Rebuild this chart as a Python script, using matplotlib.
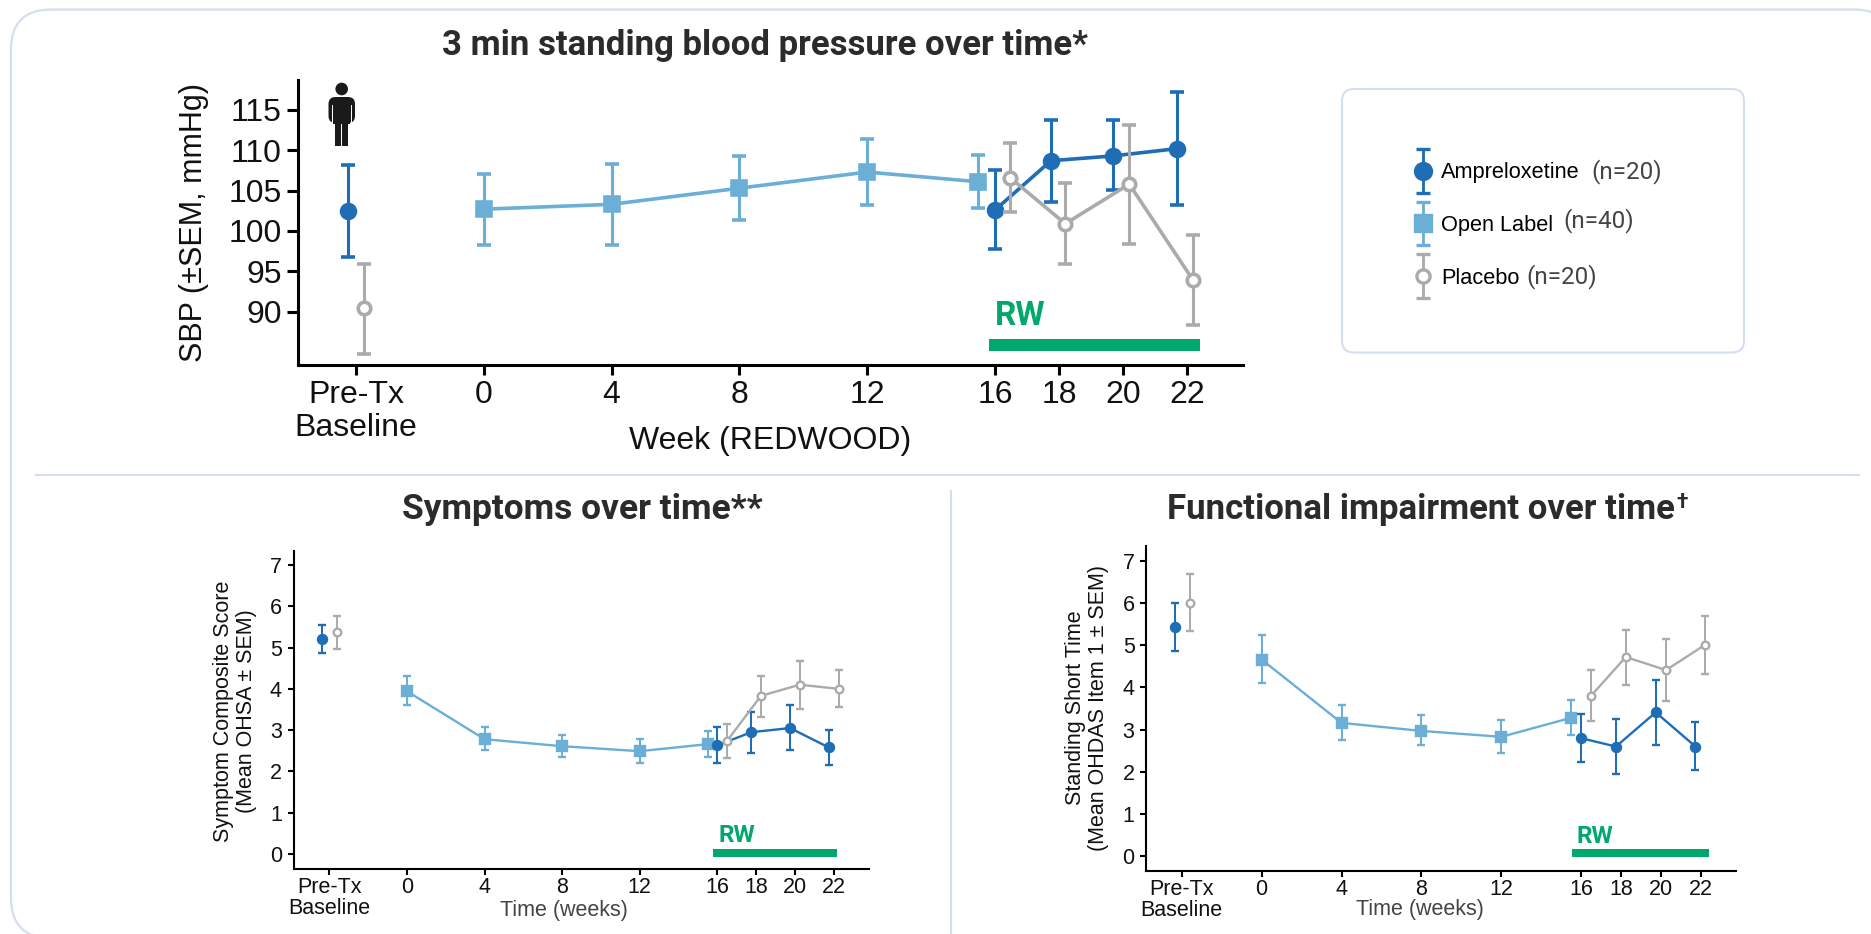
import matplotlib
matplotlib.use("Agg")
import matplotlib.pyplot as plt
from matplotlib.container import ErrorbarContainer
from matplotlib.legend_handler import HandlerErrorbar
from matplotlib.patches import FancyBboxPatch, Circle, Rectangle

W, H = 1871, 934
AMP = "#1F6DB5"
OPEN = "#6BAED6"
PBO = "#ABABAB"
GREEN = "#00A86B"
BORDER = "#D3DFF1"
DARK = "#2B2B2B"

xticks = [-4, 0, 4, 8, 12, 16, 18, 20, 22]
xticklabels = ["Pre-Tx\nBaseline", "0", "4", "8", "12", "16", "18", "20", "22"]

# top panel - standing SBP
sbp_amp_x = [16, 17.75, 19.7, 21.7]
sbp_amp = [102.6, 108.7, 109.3, 110.2]
sbp_amp_hi = [107.6, 113.8, 113.8, 117.2]
sbp_amp_lo = [97.8, 103.6, 105.1, 103.2]
sbp_amp_base = [-4.24, 102.5, 108.2, 96.8]
sbp_open_x = [0, 4, 8, 12, 15.47]
sbp_open = [102.7, 103.3, 105.3, 107.3, 106.1]
sbp_open_hi = [107.1, 108.3, 109.3, 111.4, 109.4]
sbp_open_lo = [98.3, 98.3, 101.4, 103.2, 102.9]
sbp_pbo_x = [16.47, 18.2, 20.2, 22.2]
sbp_pbo = [106.6, 100.9, 105.8, 93.9]
sbp_pbo_hi = [110.95, 105.9, 113.1, 99.5]
sbp_pbo_lo = [102.3, 95.9, 98.4, 88.3]
sbp_pbo_base = [-3.75, 90.4, 95.9, 84.8]

# bottom left - symptoms
sym_amp_x = [16, 17.75, 19.75, 21.75]
sym_amp = [2.63, 2.95, 3.05, 2.58]
sym_amp_hi = [3.07, 3.45, 3.6, 3.0]
sym_amp_lo = [2.2, 2.45, 2.51, 2.16]
sym_amp_base = [-4.41, 5.21, 5.55, 4.86]
sym_open_x = [0, 4, 8, 12, 15.5]
sym_open = [3.94, 2.78, 2.61, 2.49, 2.66]
sym_open_hi = [4.31, 3.07, 2.89, 2.78, 2.97]
sym_open_lo = [3.6, 2.53, 2.36, 2.2, 2.36]
sym_pbo_x = [16.5, 18.25, 20.25, 22.25]
sym_pbo = [2.74, 3.83, 4.1, 4.0]
sym_pbo_hi = [3.16, 4.32, 4.67, 4.45]
sym_pbo_lo = [2.32, 3.32, 3.52, 3.57]
sym_pbo_base = [-3.6, 5.38, 5.76, 4.97]

# bottom right - functional impairment
fun_amp_x = [15.98, 17.74, 19.73, 21.72]
fun_amp = [2.8, 2.6, 3.41, 2.6]
fun_amp_hi = [3.38, 3.26, 4.17, 3.17]
fun_amp_lo = [2.23, 1.94, 2.64, 2.04]
fun_amp_base = [-4.36, 5.43, 5.99, 4.87]
fun_open_x = [0, 4, 8, 12, 15.49]
fun_open = [4.66, 3.16, 2.97, 2.83, 3.28]
fun_open_hi = [5.23, 3.59, 3.34, 3.24, 3.71]
fun_open_lo = [4.1, 2.75, 2.63, 2.45, 2.87]
fun_pbo_x = [16.49, 18.23, 20.25, 22.2]
fun_pbo = [3.8, 4.72, 4.41, 5.01]
fun_pbo_hi = [4.42, 5.36, 5.15, 5.69]
fun_pbo_lo = [3.2, 4.06, 3.68, 4.32]
fun_pbo_base = [-3.58, 6.01, 6.69, 5.34]

legend_names = ["Ampreloxetine", "Open Label", "Placebo"]
legend_ns = ["(n=20)", "(n=40)", "(n=20)"]

plt.rcParams["font.family"] = ["Liberation Sans", "DejaVu Sans"]
fig = plt.figure(figsize=(W / 100, H / 100), dpi=100)


def axes_px(left, top, right, bottom, **kw):
    return fig.add_axes([left / W, 1 - bottom / H, (right - left) / W, (bottom - top) / H], **kw)


def err(ax, x, y, hi, lo, color, marker, ms, lw, cap, face=None, z=3, line=True):
    yerr = [[m - l for m, l in zip(y, lo)], [h - m for m, h in zip(y, hi)]]
    return ax.errorbar(x, y, yerr=yerr, color=color, marker=marker, ms=ms, mfc=face or color, mec=color,
                       mew=lw, lw=lw if line else 0, elinewidth=lw * 0.85, capsize=cap, capthick=lw,
                       zorder=z)


def panel(ax, xlim, ylim, yticks, fs, spine_w, xtick_len, ytick_len, pad, spacing, amp, opn, pbo, rw, ms, lw, cap):
    ax.set_xlim(xlim)
    ax.set_ylim(ylim)
    ax.patch.set_alpha(0)
    for s in ["top", "right"]:
        ax.spines[s].set_visible(False)
    for s in ["left", "bottom"]:
        ax.spines[s].set_linewidth(spine_w)
    ax.set_xticks(xticks)
    ax.set_xticklabels(xticklabels, fontsize=fs, color="#111111", linespacing=spacing)
    ax.set_yticks(yticks)
    ax.tick_params(axis="y", labelsize=fs, width=spine_w, length=ytick_len, pad=4, labelcolor="#111111")
    ax.tick_params(axis="x", width=spine_w, length=xtick_len, pad=pad)
    err(ax, opn[0], opn[1], opn[2], opn[3], OPEN, "s", ms, lw, cap, z=3)
    err(ax, amp[0], amp[1], amp[2], amp[3], AMP, "o", ms - 0.5, lw, cap, z=4)
    err(ax, pbo[0], pbo[1], pbo[2], pbo[3], PBO, "o", ms - 1.5, lw, cap, face="white", z=5)
    b = amp[4]
    err(ax, [b[0]], [b[1]], [b[2]], [b[3]], AMP, "o", ms - 0.5, lw, cap, z=4, line=False)
    b = pbo[4]
    err(ax, [b[0]], [b[1]], [b[2]], [b[3]], PBO, "o", ms - 1.5, lw, cap, face="white", z=5, line=False)
    ax.barh(rw[0], rw[2] - rw[1], left=rw[1], height=rw[3], color=GREEN, zorder=2)


# overlay in pixel coordinates for the card outline and icon
bg = fig.add_axes([0, 0, 1, 1], zorder=0)
bg.set_xlim(0, W)
bg.set_ylim(H, 0)
bg.axis("off")
bg.add_patch(FancyBboxPatch((11, 9.5), 1883, 928.5, boxstyle="round,pad=0,rounding_size=40",
                            fc="white", ec=BORDER, lw=1.6))
bg.plot([36, 1859], [475, 475], color=BORDER, lw=1.5)
bg.plot([951, 951], [491, 934], color=BORDER, lw=1.5)
bg.add_patch(FancyBboxPatch((1342, 89), 402, 263.5, boxstyle="round,pad=0,rounding_size=12",
                            fc="white", ec=BORDER, lw=1.5))

ax1 = axes_px(298.4, 80, 1243, 365, zorder=2)
panel(ax1, (-5.8, 23.76), (83.4, 118.7), [90, 95, 100, 105, 110, 115], 23, 2.2, 7, 8, 4, 1.12,
      (sbp_amp_x, sbp_amp, sbp_amp_hi, sbp_amp_lo, sbp_amp_base),
      (sbp_open_x, sbp_open, sbp_open_hi, sbp_open_lo),
      (sbp_pbo_x, sbp_pbo, sbp_pbo_hi, sbp_pbo_lo, sbp_pbo_base),
      (85.9, 15.8, 22.42, 1.49), 10.5, 2.6, 4.7)

ax2 = axes_px(293.6, 550.7, 868.6, 869, zorder=2)
panel(ax2, (-5.85, 23.8), (-0.363, 7.345), list(range(8)), 15.5, 1.5, 4, 4.5, 2, 1.0,
      (sym_amp_x, sym_amp, sym_amp_hi, sym_amp_lo, sym_amp_base),
      (sym_open_x, sym_open, sym_open_hi, sym_open_lo),
      (sym_pbo_x, sym_pbo, sym_pbo_hi, sym_pbo_lo, sym_pbo_base),
      (0.03, 15.8, 22.15, 0.19), 7, 1.7, 3.2)

ax3 = axes_px(1146.4, 545.7, 1736, 871, zorder=2)
panel(ax3, (-5.77, 23.75), (-0.347, 7.356), list(range(8)), 15.5, 1.5, 4, 4.5, 2, 1.0,
      (fun_amp_x, fun_amp, fun_amp_hi, fun_amp_lo, fun_amp_base),
      (fun_open_x, fun_open, fun_open_hi, fun_open_lo),
      (fun_pbo_x, fun_pbo, fun_pbo_hi, fun_pbo_lo, fun_pbo_base),
      (0.07, 15.56, 22.4, 0.19), 7, 1.7, 3.2)

# text, pixel positions
top = fig.add_axes([0, 0, 1, 1], zorder=3)
top.set_xlim(0, W)
top.set_ylim(H, 0)
top.axis("off")
top.patch.set_alpha(0)

rb = {"family": "Roboto", "fontweight": "bold"}
top.text(765, 45, "3 min standing blood pressure over time*", ha="center", va="center", fontsize=25, color=DARK, **rb)
top.text(582, 509, "Symptoms over time**", ha="center", va="center", fontsize=25.5, color=DARK, **rb)
top.text(1167, 509, "Functional impairment over time", ha="left", va="center", fontsize=25, color=DARK, **rb)
top.text(1676, 502, "†", ha="left", va="center", fontsize=15, color=DARK, **rb)

top.text(995, 325, "RW", ha="left", va="baseline", fontsize=24, color=GREEN, **rb)
top.text(718.6, 841.7, "RW", ha="left", va="baseline", fontsize=17.5, color=GREEN, **rb)
top.text(1576.8, 842.7, "RW", ha="left", va="baseline", fontsize=17.5, color=GREEN, **rb)

top.text(194, 223, "SBP (±SEM, mmHg)", rotation=90, ha="center", va="center", fontsize=22, color="#111111")
top.text(770, 441, "Week (REDWOOD)", ha="center", va="center", fontsize=23, color="#111111")
top.text(235, 711, "Symptom Composite Score\n(Mean OHSA ± SEM)", rotation=90, ha="center", va="center",
         fontsize=15.5, color="#111111", linespacing=1.1, multialignment="center")
top.text(1087, 708, "Standing Short Time\n(Mean OHDAS Item 1 ± SEM)", rotation=90, ha="center", va="center",
         fontsize=15.5, color="#111111", linespacing=1.1, multialignment="center")
top.text(564, 910.5, "Time (weeks)", ha="center", va="center", fontsize=15.5, color="#444444")
top.text(1419.6, 910, "Time (weeks)", ha="center", va="center", fontsize=15.5, color="#444444")

# person icon
ink = "#1A1A1A"
top.add_patch(Circle((341.7, 89), 6.3, fc=ink, ec="none"))
top.add_patch(FancyBboxPatch((328.5, 97), 26.5, 26, boxstyle="round,pad=0,rounding_size=7", fc=ink, ec="none"))
top.add_patch(Rectangle((331.6, 105), 1.1, 19, fc="white", ec="none"))
top.add_patch(Rectangle((350.8, 105), 1.1, 19, fc="white", ec="none"))
top.add_patch(Rectangle((333, 120), 17.5, 4, fc=ink, ec="none"))
top.add_patch(Rectangle((335, 120), 6, 26, fc=ink, ec="none"))
top.add_patch(Rectangle((342.5, 120), 6, 26, fc=ink, ec="none"))

# legend keys: off-canvas dummies, they only carry the style (empty data would lose the caps)
key_amp = err(top, [-50], [-50], [-49], [-51], AMP, "o", 11.5, 2.4, 4.7, line=False)
key_open = err(top, [-50], [-50], [-49], [-51], OPEN, "s", 11.5, 2.4, 4.7, line=False)
key_pbo = err(top, [-50], [-50], [-49], [-51], PBO, "o", 9.5, 2.4, 4.7, face="white", line=False)
top.set_xlim(0, W)
top.set_ylim(H, 0)
leg = top.legend([key_amp, key_open, key_pbo], legend_names, loc="center left",
                 bbox_to_anchor=(1410 / W, 1 - 225.5 / H), bbox_transform=fig.transFigure, frameon=False,
                 fontsize=15.7, numpoints=1, handlelength=1.2, handletextpad=0.23, labelspacing=1.45,
                 borderpad=0, borderaxespad=0,
                 handler_map={ErrorbarContainer: HandlerErrorbar(yerr_size=1.0)})
for n, x, y in zip(legend_ns, [1591.5, 1563, 1526], [172, 221, 277]):
    top.text(x, y, n, ha="left", va="center", family="Roboto", fontsize=17.5, color="#444444")

fig.savefig("out.png", dpi=100)
